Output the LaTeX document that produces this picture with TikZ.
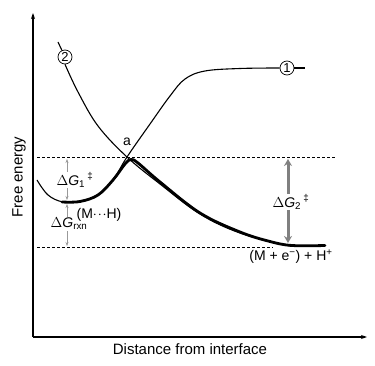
\documentclass[tikz,border=0pt]{standalone}
\usepackage{fontspec}
\setmainfont{Liberation Sans}
\usetikzlibrary{arrows.meta}

\begin{document}
\begin{tikzpicture}[x=1pt,y=-1pt,font=\fontsize{14}{16}\selectfont]
  \tikzstyle{tag}=[circle,draw,line width=0.7pt,fill=white,inner sep=0pt,minimum size=14pt,font=\fontsize{13}{13}\selectfont]
  \tikzstyle{level}=[dash pattern=on 3pt off 2pt,line width=0.8pt]
  \tikzstyle{curve}=[line width=1.1pt]
  \tikzstyle{gap}=[gray,fill=white,inner sep=1pt]
  \useasboundingbox (0,0) rectangle (375,366);

  % axes
  \coordinate (O) at (33,337);
  \coordinate (Y) at (33,13);
  \coordinate (X) at (367,337);
  \draw[line width=1.5pt,-{Stealth[length=6pt,width=4pt]}] (O) -- (Y);
  \draw[line width=1.5pt,-{Stealth[length=6pt,width=4pt]}] (O) -- (X);
  \node[rotate=90,font=\fontsize{15}{17}\selectfont] (yl) at (19,177) {Free energy};
  \node[font=\fontsize{15}{17}\selectfont] (xl) at (190,349) {Distance from interface};

  % energy levels
  \coordinate (top-l) at (37,157);
  \coordinate (top-r) at (335,157);
  \coordinate (low-l) at (37,247);
  \coordinate (low-r) at (273,247);
  \draw[level] (top-l) -- (top-r);
  \draw[level] (low-l) -- (low-r);

  % curve 1
  \node[tag] (c1) at (287,68) {1};
  \coordinate (c1-end) at (305,68);
  \draw[curve] plot[smooth,tension=0.6] coordinates {(37,180) (48,195) (63,202) (80,201) (98,195) (113,180) (127,157) (150,124) (170,96) (185,79) (205,71) (240,68.5) (c1.west)};
  \draw[curve] (c1) -- (c1-end);

  % curve 2
  \node[tag] (c2) at (65,57) {2};
  \draw[curve] (58,42) -- (c2);
  \draw[curve] plot[smooth,tension=0.6] coordinates {(c2.south) (78,92) (98,126) (127,157) (160,184) (200,214) (240,233) (290,246)};

  % lower envelope
  \draw[line width=2.8pt,line join=round,line cap=round] plot[smooth,tension=0.6] coordinates {(62,202) (80,201.5) (98,195) (113,180) (125,164) (131,159.5) (138,163) (160,182) (200,213) (240,232) (270,241.5) (292,245.5) (325,245.5)};

  % barriers
  \coordinate (g1-t) at (67,159);
  \coordinate (g1-b) at (67,200);
  \coordinate (gr-t) at (67,204);
  \coordinate (gr-b) at (67,246);
  \coordinate (g2-t) at (288,159);
  \coordinate (g2-b) at (288,243);
  \draw[gray!80,line width=0.8pt,{Stealth[length=4pt,width=3pt]}-{Stealth[length=4pt,width=3pt]}] (g1-t) -- (g1-b);
  \draw[gray!80,line width=0.8pt,{Stealth[length=4pt,width=3pt]}-{Stealth[length=4pt,width=3pt]}] (gr-t) -- (gr-b);
  \draw[gray,line width=3pt,{Stealth[length=7pt,width=8pt]}-{Stealth[length=7pt,width=8pt]}] (g2-t) -- (g2-b);
  \node[gap,text=black] (dg1) at (75,180) {$\Delta$\textit{G}\textsubscript{1}\,\textsuperscript{‡}};
  \node[gap,text=black] (dgr) at (69,224) {$\Delta$\textit{G}\textsubscript{rxn}};
  \node[gap,text=black] (dg2) at (291,202) {$\Delta$\textit{G}\textsubscript{2}\,\textsuperscript{‡}};

  % labels
  \node (a) at (127,142) {a};
  \node (mh) at (99,215) {(M$\cdot\!\cdot\!\cdot$H)};
  \node (prod) at (291,257) {(M + e\textsuperscript{−}) + H\textsuperscript{+}};
\end{tikzpicture}
\end{document}
